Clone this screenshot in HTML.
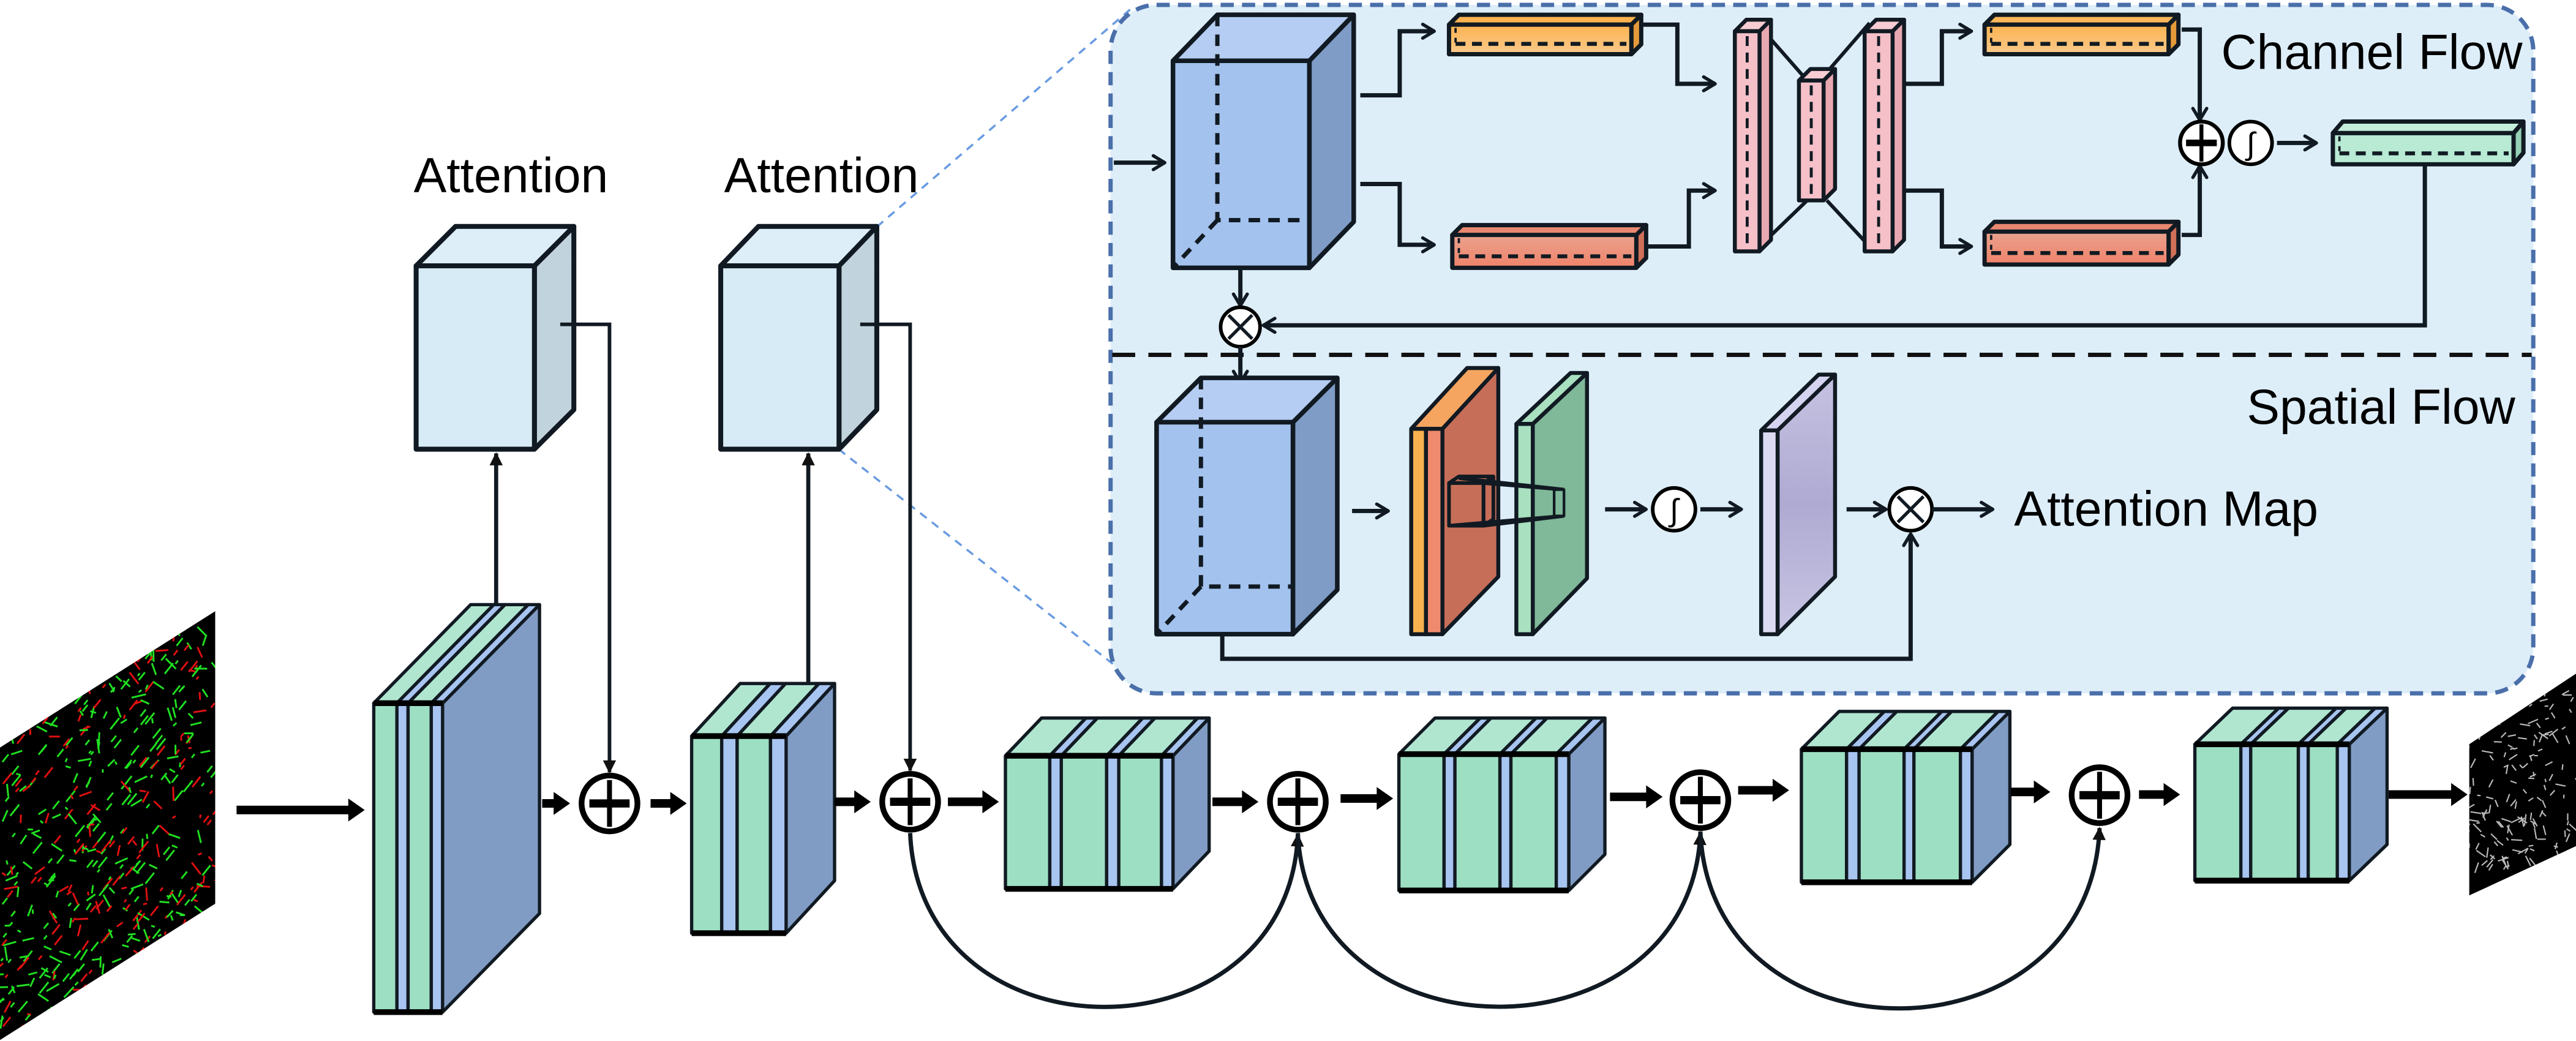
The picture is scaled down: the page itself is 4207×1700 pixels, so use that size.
<!DOCTYPE html>
<html><head><meta charset="utf-8"><style>
html,body{margin:0;padding:0;background:#fff;}
svg{display:block;}
text{font-family:"Liberation Sans",Arial,sans-serif;fill:#000;}
</style></head><body>
<svg id="s" xmlns="http://www.w3.org/2000/svg" width="4207" height="1700" viewBox="0 0 1568 633.6" preserveAspectRatio="none">
<defs>
<marker id="ah" viewBox="0 0 10 10" markerWidth="9" markerHeight="8" refX="9" refY="5" orient="auto" markerUnits="userSpaceOnUse"><path d="M0,0 L10,5 L0,10 z" fill="#111"/></marker>
<marker id="ac" viewBox="0 0 10 10" markerWidth="10" markerHeight="11" refX="9" refY="5" orient="auto" markerUnits="userSpaceOnUse"><path d="M2,0.8 L9,5 L2,9.2" fill="none" stroke="#111a22" stroke-width="2" stroke-linecap="round" stroke-linejoin="round"/></marker>
<clipPath id="cin"><polygon points="0,455 131,372 131,550 0,633"/></clipPath>
<clipPath id="cout"><polygon points="1503,453 1568,410 1568,515 1503,545"/></clipPath>
<linearGradient id="gor" x1="0" y1="0" x2="0" y2="1"><stop offset="0" stop-color="#fdb350"/><stop offset="1" stop-color="#f8c98a"/></linearGradient>
<linearGradient id="gre" x1="0" y1="0" x2="0" y2="1"><stop offset="0" stop-color="#e9a28e"/><stop offset="1" stop-color="#f0826a"/></linearGradient>
<linearGradient id="gpu" x1="0" y1="0" x2="0" y2="1"><stop offset="0" stop-color="#c5c2e2"/><stop offset="0.5" stop-color="#aeaad2"/><stop offset="1" stop-color="#c8c5e4"/></linearGradient>
</defs>
<line x1="533.8" y1="138" x2="690" y2="4" stroke="#6a9be0" stroke-width="1.3" stroke-dasharray="5 4"/>
<line x1="510.5" y1="273.4" x2="690" y2="414" stroke="#6a9be0" stroke-width="1.3" stroke-dasharray="5 4"/>
<rect x="676" y="3" width="866" height="419" rx="28" fill="#ddeef9" stroke="#4a6faa" stroke-width="2.6" stroke-dasharray="8 5"/>
<line x1="677" y1="216" x2="1541" y2="216" stroke="#111" stroke-width="2.6" stroke-dasharray="14 8"/>
<g id="g"></g>
<text x="1352" y="42" font-size="30">Channel Flow</text>
<text x="1531" y="258" font-size="30" text-anchor="end">Spatial Flow</text>
<text x="1226" y="320" font-size="30">Attention Map</text>
<text x="311" y="117" font-size="30" text-anchor="middle">Attention</text>
<text x="500" y="117" font-size="30" text-anchor="middle">Attention</text>
<text x="1370" y="94" font-size="19" text-anchor="middle">∫</text>
<text x="1019" y="317" font-size="19" text-anchor="middle">∫</text>
</svg>
<script>
var NS="http://www.w3.org/2000/svg",G=document.getElementById('g');
function el(t,a,p){var e=document.createElementNS(NS,t);for(var k in a)e.setAttribute(k,a[k]);(p||G).appendChild(e);return e;}
function poly(pts,fill,sw,st){return el('polygon',{points:pts.map(function(p){return p.join(',')}).join(' '),fill:fill,stroke:st||'#111a22','stroke-width':sw==null?2:sw,'stroke-linejoin':'round'});}
function P(d,sw,arrow,dash,col){var a={d:d,fill:'none',stroke:col||'#111a22','stroke-width':sw||2};if(arrow==1)a['marker-end']='url(#ah)';if(arrow==2)a['marker-end']='url(#ac)';if(dash)a['stroke-dasharray']=dash;return el('path',a);}
function tarrow(x1,x2,y){poly([[x1,y-2.6],[x2-10,y-2.6],[x2-10,y-7],[x2,y],[x2-10,y+7],[x2-10,y+2.6],[x1,y+2.6]],'#000',0);}
var GR='#9ddfc2',GT='#b0e6d0',BL='#a8c4f0',SD='#819cc4';
function block(xs,y,h,dx,dy){
  var xr=xs[xs.length-1];
  poly([[xr,y],[xr+dx,y+dy],[xr+dx,y+h+dy],[xr,y+h]],SD,2);
  for(var i=0;i<xs.length-1;i++){var a=xs[i],b=xs[i+1],c=(i%2==0)?GR:BL,t=(i%2==0)?GT:BL;
    poly([[a,y],[a+dx,y+dy],[b+dx,y+dy],[b,y]],t,2);
    poly([[a,y],[b,y],[b,y+h],[a,y+h]],c,2);}
  el('line',{x1:xs[0],y1:y,x2:xr,y2:y,stroke:'#000','stroke-width':3.5});
  el('line',{x1:xs[0],y1:y+h,x2:xr,y2:y+h,stroke:'#000','stroke-width':3.5});
}
function box3(x,y,w,h,dx,dy,f,t,s,sw){
  poly([[x+w,y],[x+w+dx,y+dy],[x+w+dx,y+h+dy],[x+w,y+h]],s,sw);
  poly([[x,y],[x+dx,y+dy],[x+w+dx,y+dy],[x+w,y]],t,sw);
  poly([[x,y],[x+w,y],[x+w,y+h],[x,y+h]],f,sw);
}
function oplus(x,y,r,sw,pw){el('circle',{cx:x,cy:y,r:r,fill:'#fff',stroke:'#000','stroke-width':sw});
  var l=r*0.72;el('line',{x1:x-l,y1:y,x2:x+l,y2:y,stroke:'#000','stroke-width':pw});el('line',{x1:x,y1:y-l-2,x2:x,y2:y+l+2,stroke:'#000','stroke-width':pw*0.6});}
function otimes(x,y,r){el('circle',{cx:x,cy:y,r:r,fill:'#fff',stroke:'#000','stroke-width':2.2});
  var l=r*0.6;P('M'+(x-l)+','+(y-l)+'L'+(x+l)+','+(y+l)+'M'+(x+l)+','+(y-l)+'L'+(x-l)+','+(y+l),2);}
function circ(x,y,r){el('circle',{cx:x,cy:y,r:r,fill:'#fff',stroke:'#000','stroke-width':2.2});}
var seed=7;function rnd(){seed=(seed*16807)%2147483647;return seed/2147483647;}
var gin=el('g',{'clip-path':'url(#cin)'});
el('rect',{x:0,y:360,width:132,height:280,fill:'#000'},gin);
for(var i=0;i<650;i++){var x=rnd()*131,y=380+rnd()*250;var ang=(rnd()<0.5?-0.9:rnd()*3.14),L=2+rnd()*7;
 el('line',{x1:x,y1:y,x2:x+Math.cos(ang)*L,y2:y+Math.sin(ang)*L,stroke:rnd()<0.35?'#e01010':'#20e020','stroke-width':1.1},gin);}
var gout=el('g',{'clip-path':'url(#cout)'});
el('rect',{x:1500,y:400,width:70,height:150,fill:'#000'},gout);
for(var i=0;i<160;i++){var x=1503+rnd()*65,y=420+rnd()*110;var ang=rnd()*3.14,L=2+rnd()*5;
 el('line',{x1:x,y1:y,x2:x+Math.cos(ang)*L,y2:y+Math.sin(ang)*L,stroke:'#bbb','stroke-width':0.8},gout);}
block([227.5,241.6,248.4,262.5,269.4],428,188,59,-60);
block([421,439.3,448.7,469,478.5],448,120,29.5,-32);
block([612,639,646,673.6,681,707,714],460,81,22,-23);
block([851.5,879,885.6,913,919.7,947.3,954.9],459,83,22,-22);
block([1096.5,1124,1131.6,1159,1165,1193.3,1200.4],456,81,23,-23);
block([1336,1364,1370,1399,1405,1422.7,1430],453,83,23,-22);
box3(253.3,161.8,72,111.6,24,-24,'#d6ebf6','#ddeef9','#c1d3dc',3);
box3(438.7,161.8,72,111.6,23,-24,'#d6ebf6','#ddeef9','#c1d3dc',3);
P('M302,368V276',2.5,1);P('M492,416V276',2.5,1);
P('M341,197.4H371V470',2.2,1);P('M523.6,197.4H554V469',2.2,1);
[[144,222,493],[330,347,489],[396,418,489],[508,530,488],[577,608,488],[738,766,488],[816,848,486],[980,1012,485],[1058,1089,481],[1224,1248,482],[1302,1327,483.6],[1454,1502,483.6]].forEach(function(a){tarrow(a[0],a[1],a[2]);});
P('M554,507C560,648 784,648 790,508',2.6,1);
P('M790,507C796,648 1029,648 1035,507',2.6,1);
P('M1035,506C1041,650 1272,650 1278,504',2.6,1);
oplus(371,489,17,3.5,5);oplus(554,488,17,3.5,5);oplus(790,488,17,3.5,5);oplus(1035,487,17,3.5,5);oplus(1278,484,17,3.5,5);
var W=2.6;
box3(714,37,83,126,27,-28,'#a3c2ee','#b5cdf2','#7f9cc6',2.8);
P('M741,9V134H797',W,0,'7 5');P('M741,134L714,163',W,0,'7 5');
P('M678,99H709',W,2);
P('M828,58H852V19H873',W,2);P('M828,112H852V149H873',W,2);
function hbar(x,y,w,h,dx,dy,f,t,s){box3(x,y,w,h,dx,dy,f,t,s,2.6);P('M'+(x+4)+','+(y+h*0.65)+'H'+(x+w-3),2.4,0,'6 4');P('M'+(x+4)+','+(y+2)+'V'+(y+h*0.65),1.4,0,'3 3');}
hbar(882,15,111,18,6,-6,'url(#gor)','#fdb350','#e49a3a');
hbar(884,143,112,20,6,-6,'url(#gre)','#e98870','#d07058');
hbar(1208,15,112,18,6,-6,'url(#gor)','#fcb75a','#e49a3a');
hbar(1208,141,112,20,6,-6,'url(#gre)','#e98870','#d07058');
hbar(1420,81,110,19,6,-7,'#b8ead4','#c4eedb','#96d0b6');
P('M1000,15H1021V51H1044',W,2);P('M1003,150H1028V116H1044',W,2);
function vbar(x,y,w,h){box3(x,y,w,h,7,-7,'#f5c0c8','#f7ccd2','#e8a8b2',2.4);P('M'+(x+w/2)+','+(y+3)+'V'+(y+h-3),1.8,0,'6 4');}
P('M1071,16L1100,49M1112,44L1138,14M1071,150L1100,122M1112,122L1138,150',2.2);
vbar(1056,19,15,134);vbar(1095,49,15,73);vbar(1135,19,17,134);
P('M1160,51H1182V19H1200',W,2);P('M1160,116H1182V150H1200',W,2);
P('M1328,18H1339V73',W,2);P('M1328,143H1339V101',W,2);
oplus(1340,87,13,2.4,4);circ(1370,87,13);
P('M1386,87H1410',W,2);
P('M1476,100V198H769',W,2);
P('M755,163V186',W,2);otimes(755,199,12);P('M755,211V233',W,2);
box3(704,257,83,129,27,-27,'#a3c2ee','#b5cdf2','#7f9cc6',2.8);
P('M731,230V357H787',W,0,'7 5');P('M731,357L704,386',W,0,'7 5');
P('M744,386V401H1163V325',W,2);
P('M823,311H845',W,2);
poly([[878,261],[912,224],[912,351],[878,386]],'#c66e58',2.4);
poly([[859,261],[893,224],[912,224],[878,261]],'#f5a560',2.4);
poly([[859,261],[868,261],[868,386],[859,386]],'#f7b24f',2.4);
poly([[868,261],[878,261],[878,386],[868,386]],'#f08a6e',2.4);
poly([[933,258],[966,227],[966,352],[933,386]],'#80b89a',2.4);
poly([[923,258],[956,227],[966,227],[933,258]],'#a8e0c0',2.4);
poly([[923,258],[933,258],[933,386],[923,386]],'#a8e0c0',2.4);
P('M888,291L952,298M903,294L952,298M882,320L952,314M903,320L952,314',2.2);
poly([[946,298],[952,298],[952,314],[946,314]],'#80b89a',1.6);
poly([[882,294],[888,290],[909,290],[903,294]],'none',2.2);
poly([[903,294],[909,290],[909,316],[903,320]],'none',2.2);
poly([[882,294],[903,294],[903,320],[882,320]],'none',2.2);
P('M977,310H1002',W,2);circ(1019,310,13);P('M1035,310H1060',W,2);
poly([[1082,262],[1117,228],[1117,351],[1082,386]],'url(#gpu)',2.4);
poly([[1072,262],[1107,228],[1117,228],[1082,262]],'#d5d3f0',2.4);
poly([[1072,262],[1082,262],[1082,386],[1072,386]],'#dcdaf2',2.4);
P('M1124,310H1148',W,2);otimes(1163,310,13);P('M1176,310H1213',W,2);
</script>
</body></html>
